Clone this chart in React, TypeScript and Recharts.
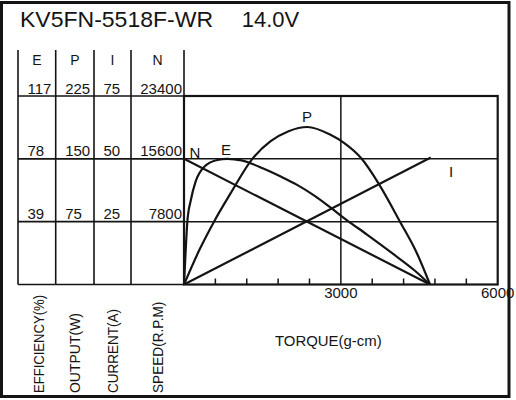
import React from 'react';
import { LineChart, Line, XAxis, YAxis, ReferenceLine, ReferenceDot } from 'recharts';

// torque (g-cm) / value pairs
const efficiencyTorque = [0, 32, 64, 128, 223, 383, 638, 829, 1100, 1517, 1850, 2155, 2500, 2793, 3112, 3500, 4000, 4400, 4705];
const efficiencyValues = [0, 21, 39, 52, 64, 73, 77.3, 78, 77, 72, 67, 62, 55, 48, 40, 31, 19, 9, 0];

const outputTorque = [0, 300, 574, 893, 1307, 1658, 2000, 2359, 2793, 3060, 3399, 3717, 4131, 4450, 4705];
const outputValues = [0, 42, 75, 109, 150, 171, 183, 188, 179, 169, 150, 121, 75, 38, 0];

const speedTorque = [0, 4705];
const speedValues = [15600, 0];

const currentTorque = [0, 4720];
const currentValues = [0, 50.5];

const torqueTicks = [0, 600, 1200, 1800, 2400, 3000, 3600, 4200, 4800, 5400, 6000];
const torqueLabels = [3000, 6000];

const efficiencyTicks = [0, 39, 78, 117];
const outputTicks = [0, 75, 150, 225];
const currentTicks = [0, 25, 50, 75];
const speedTicks = [0, 7800, 15600, 23400];

const INK = '#141414';
const FONT = '"Liberation Sans", Arial, sans-serif';

const W = 516;
const H = 400;
const TABLE_LEFT = 18;
const COL = { E: 37.7, P: 38.3, I: 37, N: 53 };
const PLOT_LEFT = TABLE_LEFT + COL.E + COL.P + COL.I + COL.N;
const PLOT_TOP = 96;
const PLOT_RIGHT = 497.7;
const PLOT_BOTTOM = 284.5;
const X_AXIS_H = 30;

// recharts stacks left axes by id, first id next to the plot
const ID_N = 'y1N';
const ID_I = 'y2I';
const ID_P = 'y3P';
const ID_E = 'y4E';

const toPoints = (xs: number[], ys: number[]) => xs.map((t, i) => ({ torque: t, value: ys[i] }));

const makeYTick = (colWidth: number, align: 'left' | 'right') => (props: any) => {
  const { x, y, payload } = props;
  const left = x - colWidth;
  return (
    <g>
      <line x1={left} x2={x} y1={y} y2={y} stroke={INK} strokeWidth={1.6} />
      {payload.value !== 0 && (
        <text
          x={align === 'right' ? x - 2 : left + 9.5}
          y={y - 2.5}
          textAnchor={align === 'right' ? 'end' : 'start'}
          fontFamily={FONT}
          fontSize={15}
          fill={INK}
        >
          {payload.value}
        </text>
      )}
    </g>
  );
};

const XTick = (props: any) => {
  const { x, y, payload } = props;
  const v = payload.value;
  return (
    <g>
      {v % 3000 !== 0 && <line x1={x} x2={x} y1={y} y2={y - 6} stroke={INK} strokeWidth={1.5} />}
      {torqueLabels.includes(v) && (
        <text x={x} y={y + 13.5} textAnchor="middle" fontFamily={FONT} fontSize={15} fill={INK}>
          {v}
        </text>
      )}
    </g>
  );
};

const curveLabel = (text: string) => (props: any) => (
  <text x={props.cx} y={props.cy} textAnchor="middle" fontFamily={FONT} fontSize={15} fill={INK}>
    {text}
  </text>
);

const sideLabels = [
  { text: 'EFFICIENCY(%)', cx: 38.3, len: 98 },
  { text: 'OUTPUT(W)', cx: 75, len: 80 },
  { text: 'CURRENT(A)', cx: 113, len: 84 },
  { text: 'SPEED(R.P.M)', cx: 158, len: 91.3 },
];

const colEdges = [
  TABLE_LEFT,
  TABLE_LEFT + COL.E,
  TABLE_LEFT + COL.E + COL.P,
  TABLE_LEFT + COL.E + COL.P + COL.I,
];

const headers = [
  { text: 'E', x: TABLE_LEFT + COL.E / 2 },
  { text: 'P', x: TABLE_LEFT + COL.E + COL.P / 2 },
  { text: 'I', x: TABLE_LEFT + COL.E + COL.P + COL.I / 2 },
  { text: 'N', x: TABLE_LEFT + COL.E + COL.P + COL.I + COL.N / 2 },
];

export default function App() {
  return (
    <div style={{ position: 'absolute', left: 0, top: 0, width: W, height: H, background: '#fff' }}>
      <LineChart
        width={W}
        height={H}
        margin={{ top: PLOT_TOP, left: TABLE_LEFT, right: W - PLOT_RIGHT, bottom: H - PLOT_BOTTOM - X_AXIS_H }}
      >
        <XAxis
          dataKey="torque"
          type="number"
          domain={[0, 6000]}
          ticks={torqueTicks}
          interval={0}
          height={X_AXIS_H}
          axisLine={false}
          tickLine={false}
          tickSize={0}
          tickMargin={0}
          tick={XTick}
          allowDataOverflow
        />
        <YAxis yAxisId={ID_N} domain={[0, 23400]} ticks={speedTicks} width={COL.N} axisLine={false} tickLine={false} tickSize={0} tickMargin={0} interval={0} tick={makeYTick(COL.N, 'right')} allowDataOverflow />
        <YAxis yAxisId={ID_I} domain={[0, 75]} ticks={currentTicks} width={COL.I} axisLine={false} tickLine={false} tickSize={0} tickMargin={0} interval={0} tick={makeYTick(COL.I, 'left')} allowDataOverflow />
        <YAxis yAxisId={ID_P} domain={[0, 225]} ticks={outputTicks} width={COL.P} axisLine={false} tickLine={false} tickSize={0} tickMargin={0} interval={0} tick={makeYTick(COL.P, 'left')} allowDataOverflow />
        <YAxis yAxisId={ID_E} domain={[0, 117]} ticks={efficiencyTicks} width={COL.E} axisLine={false} tickLine={false} tickSize={0} tickMargin={0} interval={0} tick={makeYTick(COL.E, 'left')} allowDataOverflow />

        <ReferenceLine yAxisId={ID_N} y={7800} stroke={INK} strokeWidth={1.5} />
        <ReferenceLine yAxisId={ID_N} y={15600} stroke={INK} strokeWidth={1.5} />
        <ReferenceLine yAxisId={ID_N} x={3000} stroke={INK} strokeWidth={1.5} />

        <Line data={toPoints(speedTorque, speedValues)} yAxisId={ID_N} dataKey="value" type="linear" stroke={INK} strokeWidth={2.2} dot={false} isAnimationActive={false} />
        <Line data={toPoints(currentTorque, currentValues)} yAxisId={ID_I} dataKey="value" type="linear" stroke={INK} strokeWidth={2.2} dot={false} isAnimationActive={false} />
        <Line data={toPoints(outputTorque, outputValues)} yAxisId={ID_P} dataKey="value" type="monotone" stroke={INK} strokeWidth={2.2} dot={false} isAnimationActive={false} />
        <Line data={toPoints(efficiencyTorque, efficiencyValues)} yAxisId={ID_E} dataKey="value" type="monotone" stroke={INK} strokeWidth={2.2} dot={false} isAnimationActive={false} />

        <ReferenceDot yAxisId={ID_N} x={210} y={15650} r={0} shape={curveLabel('N')} />
        <ReferenceDot yAxisId={ID_E} x={803} y={80.4} r={0} shape={curveLabel('E')} />
        <ReferenceDot yAxisId={ID_P} x={2353} y={194} r={0} shape={curveLabel('P')} />
        <ReferenceDot yAxisId={ID_I} x={5107} y={42.8} r={0} shape={curveLabel('I')} />
      </LineChart>

      <svg width={W} height={H} style={{ position: 'absolute', left: 0, top: 0, pointerEvents: 'none' }}>
        <rect x={1.5} y={2.5} width={507.5} height={394} fill="none" stroke={INK} strokeWidth={3} />
        <text x={20} y={27} fontFamily={FONT} fontSize={22} fill={INK} textLength={193} lengthAdjust="spacingAndGlyphs">
          KV5FN-5518F-WR
        </text>
        <text x={241.7} y={27} fontFamily={FONT} fontSize={22} fill={INK}>
          14.0V
        </text>

        {colEdges.map((x) => (
          <line key={x} x1={x} x2={x} y1={50} y2={PLOT_BOTTOM} stroke={INK} strokeWidth={1.6} />
        ))}
        <line x1={PLOT_LEFT} x2={PLOT_LEFT} y1={50} y2={PLOT_TOP} stroke={INK} strokeWidth={1.6} />
        {headers.map((h) => (
          <text key={h.text} x={h.x} y={65} textAnchor="middle" fontFamily={FONT} fontSize={14} fill={INK}>
            {h.text}
          </text>
        ))}

        <rect
          x={PLOT_LEFT}
          y={PLOT_TOP}
          width={PLOT_RIGHT - PLOT_LEFT}
          height={PLOT_BOTTOM - PLOT_TOP}
          fill="none"
          stroke={INK}
          strokeWidth={2.2}
        />

        {sideLabels.map((s) => (
          <text
            key={s.text}
            x={s.cx + 5.3}
            y={393}
            transform={`rotate(-90, ${s.cx + 5.3}, 393)`}
            fontFamily={FONT}
            fontSize={15}
            fill={INK}
            textLength={s.len}
            lengthAdjust="spacingAndGlyphs"
          >
            {s.text}
          </text>
        ))}
        <text x={328.3} y={346} textAnchor="middle" fontFamily={FONT} fontSize={15} fill={INK} textLength={106.7} lengthAdjust="spacingAndGlyphs">
          TORQUE(g-cm)
        </text>
      </svg>
    </div>
  );
}
